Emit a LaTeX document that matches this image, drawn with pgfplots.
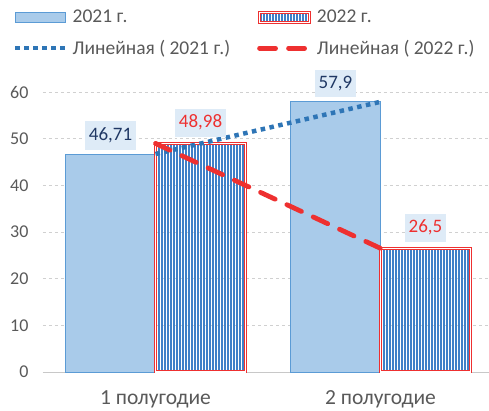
\documentclass[border=0pt]{standalone}
\usepackage{pgfplots}
\pgfplotsset{compat=1.18}
\usetikzlibrary{patterns.meta}
\usepackage{fontspec}
\setmainfont{Carlito}
\definecolor{barA}{HTML}{A9CBEA}
\definecolor{barAedge}{HTML}{5B9BD5}
\definecolor{patblue}{HTML}{3F80C8}
\definecolor{trendblue}{HTML}{2E75B6}
\definecolor{redc}{HTML}{EE3030}
\definecolor{lblbg}{HTML}{DEEBF7}
\definecolor{navy}{HTML}{203864}
\definecolor{txtgray}{HTML}{595959}
\definecolor{gridgray}{HTML}{D0D0D0}
\definecolor{axgray}{HTML}{C8C8C8}
\newcommand\tf{\fontsize{18bp}{21bp}\selectfont}
\newcommand\cf{\fontsize{21.5bp}{25bp}\selectfont}
\newcommand\lf{\fontsize{19.5bp}{22bp}\selectfont}
\newcommand\df{\fontsize{19bp}{22bp}\selectfont}
\pgfplotsset{
  barleg/.style={legend image code/.code={\draw[##1] (0bp,-5bp) rectangle (50bp,5bp);}},
  lineleg/.style={legend image code/.code={\draw[##1] (0bp,0bp) -- (50bp,0bp);}},
}
\begin{document}
\begin{tikzpicture}
\begin{axis}[
  scale only axis,
  width=450bp, height=280bp,
  xmin=-0.5, xmax=1.5,
  ymin=0, ymax=60,
  ytick={0,10,...,60},
  xtick={0,1},
  xticklabels={1 полугодие, 2 полугодие},
  axis x line*=bottom,
  axis y line*=left,
  axis line style={-},
  y axis line style={draw=none},
  x axis line style={draw=axgray, line width=1bp},
  major tick length=0pt,
  ymajorgrids,
  grid style={dashed, gridgray, line width=0.8bp},
  tick label style={text=txtgray},
  yticklabel style={font=\tf, xshift=-11bp},
  xticklabel style={font=\cf, yshift=-15bp},
  /pgf/number format/assume math mode=true,
  legend style={at={(0,1)}, anchor=north west, xshift=-33bp, yshift=86bp,
    draw=none, fill=none, font=\lf, text=txtgray,
    legend columns=2, row sep=12bp,
    /tikz/every odd column/.append style={column sep=3bp},
    /tikz/every even column/.append style={column sep=25bp}},
  legend cell align=left,
  point meta=explicit symbolic,
  every node near coord/.append style={font=\df, fill=lblbg, inner xsep=4bp, inner ysep=6.5bp, anchor=south, yshift=4bp},
]
\coordinate (bl) at (rel axis cs:0,0);
\coordinate (tr) at (rel axis cs:1,1);
\addplot[ybar, bar width=0.4, bar shift=-0.2, fill=barA, draw=barAedge, line width=1bp,
  nodes near coords, every node near coord/.append style={text=navy, xshift=-45bp}, barleg]
  coordinates {(0,46.71) [46,71] (1,57.9) [57,9]};
\addlegendentry{2021 г.}
\addplot[ybar, bar width=0.4, bar shift=0.2,
  pattern={Lines[angle=90, distance=3bp, line width=1.5bp]}, pattern color=patblue,
  draw=redc, double=white, double distance=1.2bp, line width=1bp,
  nodes near coords, every node near coord/.append style={text=redc, xshift=45bp, yshift=2bp}, barleg]
  coordinates {(0,48.98) [48,98] (1,26.5) [26,5]};
\addlegendentry{2022 г.}
\addplot[trendblue, line width=4.5bp, dash pattern=on 4.5bp off 4.5bp, line cap=butt, sharp plot, lineleg]
  coordinates {(0,46.71) (1,57.9)};
\addlegendentry{Линейная ( 2021 г.)}
\addplot[redc, line width=4.8bp, dash pattern=on 16bp off 13bp, line cap=round, sharp plot, lineleg]
  coordinates {(0,48.98) (1,26.5)};
\addlegendentry{Линейная ( 2022 г.)}
\end{axis}
\pgfresetboundingbox
\path[use as bounding box] ([shift={(-43bp,-39bp)}]bl) rectangle ([shift={(-4bp,92bp)}]tr);
\end{tikzpicture}
\end{document}
